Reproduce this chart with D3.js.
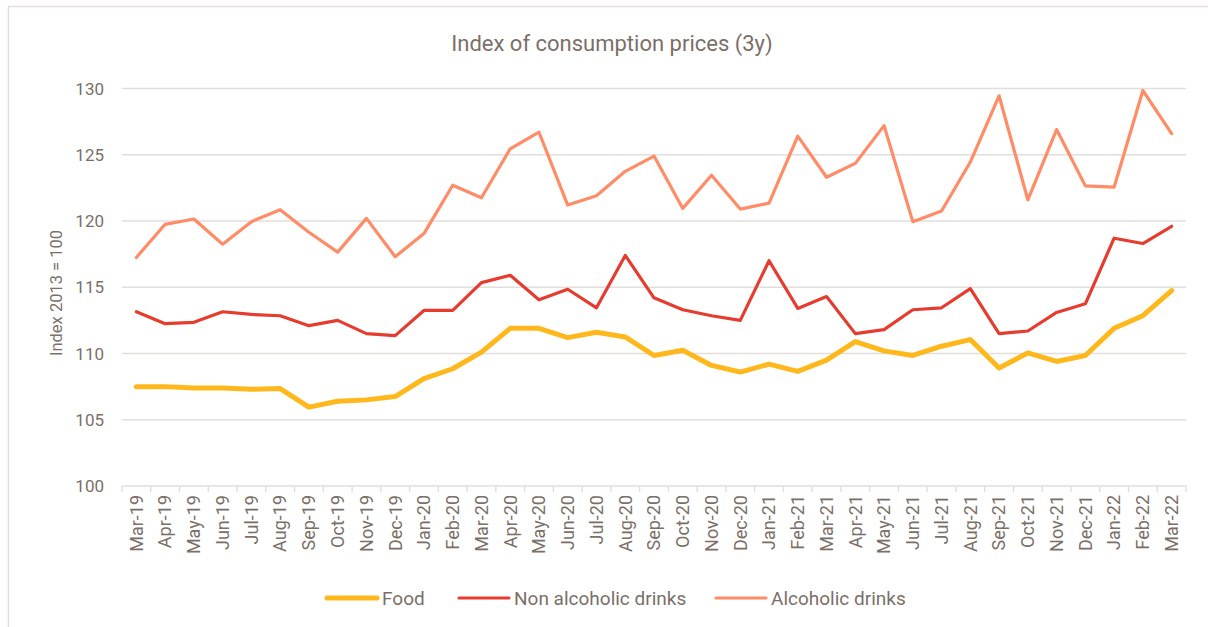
<!DOCTYPE html>
<html>
<head>
<meta charset="utf-8">
<title>Index of consumption prices (3y)</title>
<script src="https://d3js.org/d3.v7.min.js"></script>
<style>
  body { margin: 0; background: #fff; overflow: hidden; }
  text { font-family: Roboto, "Noto Sans", sans-serif; fill: #7b6f68; }
</style>
</head>
<body>
<script>
// months on the x axis
var months = ["Mar-19","Apr-19","May-19","Jun-19","Jul-19","Aug-19","Sep-19","Oct-19","Nov-19","Dec-19",
  "Jan-20","Feb-20","Mar-20","Apr-20","May-20","Jun-20","Jul-20","Aug-20","Sep-20","Oct-20","Nov-20","Dec-20",
  "Jan-21","Feb-21","Mar-21","Apr-21","May-21","Jun-21","Jul-21","Aug-21","Sep-21","Oct-21","Nov-21","Dec-21",
  "Jan-22","Feb-22","Mar-22"];

var food = [107.5,107.5,107.4,107.4,107.3,107.35,105.95,106.4,106.5,106.75,
  108.1,108.85,110.1,111.9,111.9,111.2,111.6,111.25,109.85,110.25,109.1,108.6,
  109.2,108.65,109.5,110.9,110.2,109.85,110.55,111.05,108.9,110.05,109.4,109.85,
  111.9,112.85,114.75];

var nonAlcoholic = [113.15,112.25,112.35,113.15,112.95,112.85,112.1,112.5,111.5,111.35,
  113.25,113.25,115.35,115.9,114.05,114.85,113.45,117.4,114.2,113.3,112.85,112.5,
  117.0,113.4,114.3,111.5,111.8,113.3,113.45,114.9,111.5,111.7,113.1,113.75,
  118.7,118.3,119.6];

var alcoholic = [117.25,119.75,120.15,118.25,119.95,120.85,119.15,117.65,120.2,117.3,
  119.05,122.7,121.75,125.45,126.7,121.2,121.9,123.75,124.9,120.95,123.45,120.9,
  121.35,126.4,123.3,124.35,127.2,119.95,120.75,124.45,129.45,121.6,126.9,122.65,
  122.55,129.85,126.6];

var yTicks = [100, 105, 110, 115, 120, 125, 130];

var series = [
  {name: "Food", values: food, color: "#ffb81c", width: 5},
  {name: "Non alcoholic drinks", values: nonAlcoholic, color: "#e63c30", width: 3.2},
  {name: "Alcoholic drinks", values: alcoholic, color: "#ff8c67", width: 3.2}
];

var W = 1208, H = 627;
var svg = d3.select("body").append("svg")
  .attr("width", W)
  .attr("height", H);

// chart frame (right and bottom edges run off the picture)
svg.append("rect")
  .attr("x", 8.5).attr("y", 6.5)
  .attr("width", 1220).attr("height", 640)
  .attr("fill", "none")
  .attr("stroke", "#e2dedb")
  .attr("stroke-width", 1.5);

var plotLeft = 122, plotRight = 1186, plotTop = 88.5, plotBottom = 486;

var x = d3.scaleBand().domain(months).range([plotLeft, plotRight]);
var y = d3.scaleLinear().domain([100, 130]).range([plotBottom, plotTop]);

// gridlines
svg.append("g")
  .selectAll("line")
  .data(yTicks)
  .join("line")
  .attr("x1", plotLeft).attr("x2", plotRight)
  .attr("y1", function(d) { return y(d); })
  .attr("y2", function(d) { return y(d); })
  .attr("stroke", "#e2dedb")
  .attr("stroke-width", 1.6);

// y tick labels
svg.append("g")
  .selectAll("text")
  .data(yTicks)
  .join("text")
  .attr("x", 104)
  .attr("y", function(d) { return y(d); })
  .attr("dy", "0.36em")
  .attr("text-anchor", "end")
  .style("font-size", "17px")
  .text(function(d) { return d; });

// x axis ticks between categories
var tickPos = months.map(function(m) { return x(m); }).concat([plotRight]);
svg.append("g")
  .selectAll("line")
  .data(tickPos)
  .join("line")
  .attr("x1", function(d) { return d; })
  .attr("x2", function(d) { return d; })
  .attr("y1", plotBottom).attr("y2", plotBottom + 6)
  .attr("stroke", "#e2dedb")
  .attr("stroke-width", 1.4);

// x labels rotated
svg.append("g")
  .selectAll("text")
  .data(months)
  .join("text")
  .attr("transform", function(d) {
    return "translate(" + (x(d) + x.bandwidth() / 2) + "," + (plotBottom + 9) + ") rotate(-90)";
  })
  .attr("dy", "0.35em")
  .attr("text-anchor", "end")
  .style("font-size", "18px")
  .text(function(d) { return d; });

// title
svg.append("text")
  .attr("x", 612).attr("y", 51)
  .attr("text-anchor", "middle")
  .style("font-size", "22px")
  .text("Index of consumption prices (3y)");

// y axis title
svg.append("text")
  .attr("transform", "translate(62,293) rotate(-90)")
  .attr("text-anchor", "middle")
  .style("font-size", "16.5px")
  .text("Index 2013 = 100");

// lines
var line = d3.line()
  .x(function(d, i) { return x(months[i]) + x.bandwidth() / 2; })
  .y(function(d) { return y(d); });

svg.append("g")
  .selectAll("path")
  .data(series.slice().reverse())
  .join("path")
  .attr("d", function(s) { return line(s.values); })
  .attr("fill", "none")
  .attr("stroke", function(s) { return s.color; })
  .attr("stroke-width", function(s) { return s.width; })
  .attr("stroke-linejoin", "round")
  .attr("stroke-linecap", "round");

// legend
var legendX = [327, 459, 716];
var legend = svg.append("g")
  .selectAll("g")
  .data(series)
  .join("g")
  .attr("transform", function(s, i) { return "translate(" + legendX[i] + ",598)"; });

legend.append("line")
  .attr("x1", 0).attr("x2", 50)
  .attr("stroke", function(s) { return s.color; })
  .attr("stroke-width", function(s) { return s.width; })
  .attr("stroke-linecap", "round");

legend.append("text")
  .attr("x", 55)
  .attr("dy", "0.36em")
  .style("font-size", "19px")
  .text(function(s) { return s.name; });
</script>
</body>
</html>
